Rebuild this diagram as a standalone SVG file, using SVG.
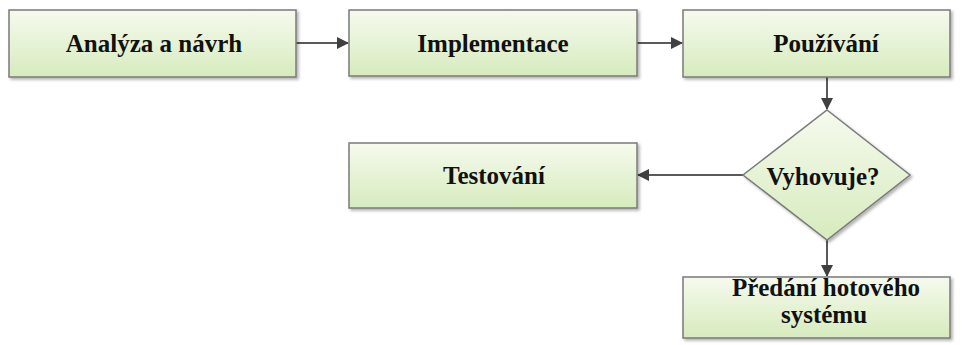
<svg xmlns="http://www.w3.org/2000/svg" width="963" height="345" viewBox="0 0 963 345">
<defs>
<linearGradient id="g" x1="0" y1="0" x2="0" y2="1">
<stop offset="0" stop-color="#f6faee"/>
<stop offset="1" stop-color="#d6ebbd"/>
</linearGradient>
<marker id="ah" markerWidth="12" markerHeight="12" refX="11" refY="6" orient="auto" markerUnits="userSpaceOnUse">
<path d="M0,0 L12,6 L0,12 z" fill="#404040"/>
</marker>
<filter id="sh" x="-5%" y="-10%" width="115%" height="130%">
<feDropShadow dx="2" dy="2" stdDeviation="1.5" flood-color="#000" flood-opacity="0.3"/>
</filter>
</defs>
<style>
.box{fill:url(#g);stroke:#7a7a7a;stroke-width:1.5;filter:url(#sh)}
.t{font-family:'Liberation Serif','Times New Roman',serif;font-weight:bold;font-size:25px;fill:#111;text-anchor:middle}
.c{fill:none;stroke:#5a5a5a;stroke-width:2;marker-end:url(#ah)}
</style>
<rect width="963" height="345" fill="#fff"/>
<g id="connectors">
<line class="c" x1="296" y1="43" x2="348" y2="43"/>
<line class="c" x1="637" y1="43" x2="682" y2="43"/>
<line class="c" x1="827" y1="77" x2="827" y2="109"/>
<line class="c" x1="743" y1="175" x2="638" y2="175"/>
<line class="c" x1="827" y1="240" x2="827" y2="276"/>
</g>
<g id="n1"><rect class="box" x="9" y="10" width="287" height="67"/><text class="t" x="154" y="52">Analýza a návrh</text></g>
<g id="n2"><rect class="box" x="349" y="10" width="288" height="66"/><text class="t" x="493" y="52">Implementace</text></g>
<g id="n3"><rect class="box" x="683" y="10" width="267" height="67"/><text class="t" x="826" y="52">Používání</text></g>
<g id="n4"><rect class="box" x="349" y="143" width="288" height="65"/><text class="t" x="494" y="184">Testování</text></g>
<g id="n5"><polygon class="box" points="827,110 910,175 827,240 743,175"/><text class="t" x="823" y="185">Vyhovuje?</text></g>
<g id="n6"><rect class="box" x="683" y="277" width="267" height="61"/><text class="t" x="826" y="296">Předání hotového</text><text class="t" x="824" y="323">systému</text></g>
</svg>
